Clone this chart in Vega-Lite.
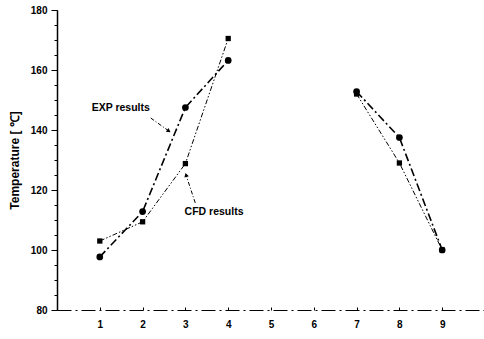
{
  "$schema": "https://vega.github.io/schema/vega-lite/v6.json",
  "width": 428,
  "height": 300,
  "autosize": {"type": "none"},
  "padding": {"left": 57, "top": 10, "right": 0, "bottom": 29},
  "background": "white",
  "config": {"view": {"stroke": null}, "font": "Liberation Sans"},
  "resolve": {"axis": {"y": "independent"}},
  "datasets": {
    "pts": [
      {"pos": 1, "temp": 97.7, "series": "EXP", "seg": "a"},
      {"pos": 2, "temp": 112.8, "series": "EXP", "seg": "a"},
      {"pos": 3, "temp": 147.5, "series": "EXP", "seg": "a"},
      {"pos": 4, "temp": 163.2, "series": "EXP", "seg": "a"},
      {"pos": 7, "temp": 152.8, "series": "EXP", "seg": "b"},
      {"pos": 8, "temp": 137.5, "series": "EXP", "seg": "b"},
      {"pos": 9, "temp": 100, "series": "EXP", "seg": "b"},
      {"pos": 1, "temp": 103, "series": "CFD", "seg": "a"},
      {"pos": 2, "temp": 109.4, "series": "CFD", "seg": "a"},
      {"pos": 3, "temp": 128.8, "series": "CFD", "seg": "a"},
      {"pos": 4, "temp": 170.5, "series": "CFD", "seg": "a"},
      {"pos": 7, "temp": 152, "series": "CFD", "seg": "b"},
      {"pos": 8, "temp": 129, "series": "CFD", "seg": "b"},
      {"pos": 9, "temp": 100, "series": "CFD", "seg": "b"}
    ],
    "labels": [
      {"x": 1.49, "y": 147.3, "text": "EXP results"},
      {"x": 3.67, "y": 112.7, "text": "CFD results"}
    ],
    "arrows": [
      {"x": 2.19, "y": 144, "x2": 2.6, "y2": 139.8, "ang": 126},
      {"x": 3.23, "y": 115.7, "x2": 3.02, "y2": 124.8, "ang": -18}
    ]
  },
  "layer": [
    {
      "data": {"values": [{"v": 80}]},
      "mark": {"type": "point", "opacity": 0},
      "encoding": {
        "y": {"field": "v", "type": "quantitative", "scale": {"domain": [80, 180], "nice": false},
          "axis": {"orient": "left", "values": [80,85,90,95,100,105,110,115,120,125,130,135,140,145,150,155,160,165,170,175,180], "labels": false, "tickSize": 3, "tickColor": "#000", "domain": true, "domainColor": "#000", "domainWidth": 1.5, "grid": false, "title": null}}
      }
    },
    {
      "data": {"values": [{"v": 80}]},
      "mark": {"type": "point", "opacity": 0},
      "encoding": {
        "x": {"field": "v", "type": "quantitative", "scale": {"domain": [0, 10], "nice": false},
          "axis": {"values": [1,2,3,4,5,6,7,8,9], "tickSize": -3, "tickColor": "#000", "domainColor": "#000", "domainWidth": 1.2, "domainDash": [14,4,2,4], "grid": false, "title": null, "labelFontWeight": "bold", "labelFontSize": 10, "labelColor": "#000", "labelPadding": 12, "labelFont": "Liberation Sans"}},
        "y": {"field": "v", "type": "quantitative",
          "axis": {"orient": "left", "values": [80,100,120,140,160,180], "tickSize": 6, "tickColor": "#000", "domain": false, "grid": false, "labelFontWeight": "bold", "labelFontSize": 10, "labelColor": "#000", "labelPadding": 4, "labelFont": "Liberation Sans", "title": "Temperature [ ℃]", "titleFontWeight": "bold", "titleFontSize": 12, "titleColor": "#000", "titlePadding": 9, "titleFont": "Liberation Sans"}}
      }
    },
    {
      "data": {"name": "pts"},
      "transform": [{"filter": "datum.series == 'EXP'"}],
      "mark": {"type": "line", "color": "#000", "strokeWidth": 1.6, "strokeDash": [8, 3, 2, 3]},
      "encoding": {
        "x": {"field": "pos", "type": "quantitative"},
        "y": {"field": "temp", "type": "quantitative", "axis": null},
        "detail": {"field": "seg"}
      }
    },
    {
      "data": {"name": "pts"},
      "transform": [{"filter": "datum.series == 'CFD'"}],
      "mark": {"type": "line", "color": "#000", "strokeWidth": 1, "strokeDash": [5, 2, 1.5, 2, 1.5, 2]},
      "encoding": {
        "x": {"field": "pos", "type": "quantitative"},
        "y": {"field": "temp", "type": "quantitative", "axis": null},
        "detail": {"field": "seg"}
      }
    },
    {
      "data": {"name": "pts"},
      "transform": [{"filter": "datum.series == 'EXP'"}],
      "mark": {"type": "point", "shape": "circle", "filled": true, "color": "#000", "size": 45, "opacity": 1},
      "encoding": {
        "x": {"field": "pos", "type": "quantitative"},
        "y": {"field": "temp", "type": "quantitative", "axis": null}
      }
    },
    {
      "data": {"name": "pts"},
      "transform": [{"filter": "datum.series == 'CFD'"}],
      "mark": {"type": "point", "shape": "square", "filled": true, "color": "#000", "size": 28, "opacity": 1},
      "encoding": {
        "x": {"field": "pos", "type": "quantitative"},
        "y": {"field": "temp", "type": "quantitative", "axis": null}
      }
    },
    {
      "data": {"name": "labels"},
      "mark": {"type": "text", "font": "Liberation Sans", "fontWeight": "bold", "fontSize": 10.5, "color": "#000"},
      "encoding": {
        "x": {"field": "x", "type": "quantitative"},
        "y": {"field": "y", "type": "quantitative", "axis": null},
        "text": {"field": "text"}
      }
    },
    {
      "data": {"name": "arrows"},
      "mark": {"type": "rule", "color": "#000", "strokeWidth": 1, "strokeDash": [4, 2, 1, 2]},
      "encoding": {
        "x": {"field": "x", "type": "quantitative"},
        "y": {"field": "y", "type": "quantitative", "axis": null},
        "x2": {"field": "x2"},
        "y2": {"field": "y2"}
      }
    },
    {
      "data": {"name": "arrows"},
      "mark": {"type": "point", "shape": "triangle", "filled": true, "color": "#000", "size": 22, "opacity": 1},
      "encoding": {
        "x": {"field": "x2", "type": "quantitative"},
        "y": {"field": "y2", "type": "quantitative", "axis": null},
        "angle": {"field": "ang", "type": "quantitative", "scale": null}
      }
    }
  ]
}
